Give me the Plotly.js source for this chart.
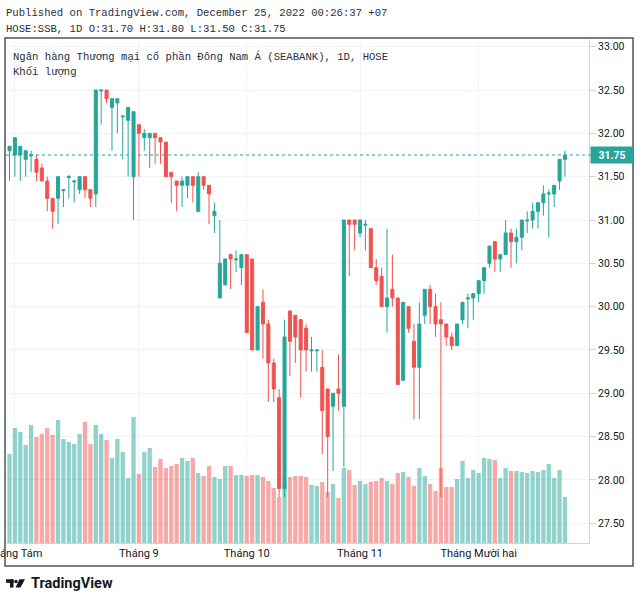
<!DOCTYPE html>
<html><head><meta charset="utf-8">
<script src="https://cdn.plot.ly/plotly-3.0.1.min.js"></script>
<style>html,body{margin:0;padding:0;background:#fff}#chart{width:640px;height:601px}</style>
</head><body><div id="chart"></div><script>
// ---- data ----
const dates = ["2022-07-29",
"2022-08-01","2022-08-02","2022-08-03","2022-08-04","2022-08-05","2022-08-08","2022-08-09","2022-08-10","2022-08-11","2022-08-12",
"2022-08-15","2022-08-16","2022-08-17","2022-08-18","2022-08-19","2022-08-22","2022-08-23","2022-08-24","2022-08-25","2022-08-26",
"2022-08-29","2022-08-30","2022-08-31",
"2022-09-05","2022-09-06","2022-09-07","2022-09-08","2022-09-09","2022-09-12","2022-09-13","2022-09-14","2022-09-15","2022-09-16",
"2022-09-19","2022-09-20","2022-09-21","2022-09-22","2022-09-23","2022-09-26","2022-09-27","2022-09-28","2022-09-29","2022-09-30",
"2022-10-03","2022-10-04","2022-10-05","2022-10-06","2022-10-07","2022-10-10","2022-10-11","2022-10-12","2022-10-13","2022-10-14",
"2022-10-17","2022-10-18","2022-10-19","2022-10-20","2022-10-21","2022-10-24","2022-10-25","2022-10-26","2022-10-27","2022-10-28","2022-10-31",
"2022-11-01","2022-11-02","2022-11-03","2022-11-04","2022-11-07","2022-11-08","2022-11-09","2022-11-10","2022-11-11",
"2022-11-14","2022-11-15","2022-11-16","2022-11-17","2022-11-18","2022-11-21","2022-11-22","2022-11-23","2022-11-24","2022-11-25",
"2022-11-28","2022-11-29","2022-11-30",
"2022-12-01","2022-12-02","2022-12-05","2022-12-06","2022-12-07","2022-12-08","2022-12-09","2022-12-12","2022-12-13","2022-12-14",
"2022-12-15","2022-12-16","2022-12-19","2022-12-20","2022-12-21","2022-12-22","2022-12-23"];

const open = [31.80,31.75,31.75,31.70,31.74,31.70,31.60,31.45,31.25,31.25,
31.34,31.49,31.44,31.35,31.50,31.35,31.30,32.49,32.50,32.30,
32.35,32.19,32.15,31.50,32.10,31.95,31.95,32.00,31.95,31.90,
31.55,31.45,31.40,31.40,31.50,31.10,31.50,31.40,31.05,30.10,
30.25,30.60,30.54,30.45,30.60,30.55,29.50,30.05,29.80,29.35,
28.95,27.90,29.95,29.90,29.85,29.75,29.49,29.49,29.30,29.05,
28.85,29.05,28.85,31.00,31.00,30.85,30.94,30.90,30.45,30.35,
30.00,30.20,30.10,29.15,30.00,29.60,29.30,29.90,30.20,30.00,
29.85,29.80,29.65,29.55,29.85,30.09,30.10,30.15,30.30,30.50,
30.75,30.55,30.60,30.85,30.75,30.80,30.99,31.00,31.10,31.20,
31.30,31.30,31.45,31.70];

const high = [31.85,31.95,31.85,31.80,31.80,31.75,31.65,31.50,31.25,31.50,
31.35,31.52,31.45,31.50,31.50,31.35,32.50,32.50,32.50,32.40,
32.40,32.20,32.30,32.25,32.10,32.05,32.00,32.00,31.95,31.90,
31.55,31.45,31.50,31.50,31.50,31.55,31.50,31.40,31.20,31.00,
30.55,30.60,30.65,30.60,30.60,30.55,30.00,30.20,29.85,29.40,
29.05,29.85,29.95,29.90,29.85,29.80,29.65,29.50,29.50,29.05,
29.00,29.45,31.00,31.00,31.00,31.00,31.00,30.90,30.55,30.45,
30.90,30.60,30.10,30.05,30.00,29.80,30.05,30.20,30.25,30.15,
30.05,29.80,29.70,29.80,30.05,30.15,30.15,30.30,30.45,30.70,
30.75,30.60,31.00,30.90,30.90,31.00,31.10,31.20,31.20,31.40,
31.35,31.40,31.70,31.80];

const low = [31.45,31.50,31.45,31.50,31.55,31.45,31.45,31.10,30.90,30.95,
31.15,31.25,31.20,31.30,31.25,31.15,31.15,32.10,32.35,31.80,
32.00,31.70,31.50,31.00,31.50,31.80,31.60,31.65,31.65,31.50,
31.20,31.10,31.15,31.25,31.20,31.10,31.35,30.95,30.85,30.10,
30.25,30.20,30.40,30.25,29.70,29.50,29.50,29.40,28.90,28.90,
27.80,27.80,29.20,29.35,28.95,29.25,29.25,29.25,28.30,27.80,
28.10,28.80,28.15,30.35,30.65,30.80,30.65,30.45,30.25,30.00,
29.70,30.00,29.10,29.15,29.70,28.70,28.70,29.80,29.80,29.65,
27.80,29.55,29.50,29.55,29.80,29.75,29.85,30.05,30.15,30.45,
30.40,30.40,30.60,30.45,30.50,30.65,30.85,30.90,30.90,31.05,
30.80,31.15,31.35,31.50];

const close = [31.85,31.95,31.85,31.80,31.75,31.55,31.45,31.25,31.10,31.50,
31.35,31.50,31.45,31.50,31.35,31.25,32.50,32.50,32.40,32.40,
32.40,32.20,32.30,32.25,32.00,32.00,32.00,31.95,31.90,31.50,
31.50,31.40,31.45,31.50,31.40,31.50,31.40,31.30,31.10,30.50,
30.55,30.55,30.55,30.60,29.70,29.50,30.00,29.80,29.35,29.05,
27.90,29.65,29.60,29.65,29.50,29.50,29.50,29.50,28.80,28.50,
29.00,29.00,31.00,30.95,30.95,31.00,30.95,30.45,30.30,30.00,
30.10,30.10,29.10,30.05,29.75,29.30,29.80,30.20,30.00,29.80,
29.80,29.65,29.55,29.80,30.05,30.10,30.15,30.30,30.45,30.70,
30.55,30.60,30.85,30.75,30.80,31.00,31.00,31.10,31.20,31.30,
31.31,31.40,31.70,31.75];

// volume, estimated, in units of 10,000 shares
const volume = [89,115,111,98,118,106,109,115,108,123,
104,101,99,109,121,99,118,109,103,85,
104,91,65,126,69,91,95,76,84,75,
77,79,85,82,85,70,67,77,66,64,
77,77,68,68,67,68,68,66,62,55,
46,60,66,67,67,66,58,57,61,51,
59,45,75,73,58,62,59,61,62,65,
62,59,70,71,66,57,75,67,59,52,
75,56,56,64,82,65,73,70,85,84,
83,65,75,72,72,71,70,72,71,73,
79,65,73,46];

const monthTicks  = ["2022-08-01","2022-09-05","2022-10-03","2022-11-01","2022-12-01"];
const monthLabels = ["Tháng Tám","Tháng 9","Tháng 10","Tháng 11","Tháng Mười hai"];
const priceTicks  = [27.5,28.0,28.5,29.0,29.5,30.0,30.5,31.0,31.5,32.0,32.5,33.0];

const headerLine1 = "Published on TradingView.com, December 25, 2022 00:26:37 +07";
const headerLine2 = "HOSE:SSB, 1D O:31.70 H:31.80 L:31.50 C:31.75";
const titleLine   = "Ngân hàng Thương mại cổ phần Đông Nam Á (SEABANK), 1D, HOSE";
const volumeLabel = "Khối lượng";

// ---- styling / layout helpers ----
const UP = '#26a69a', DOWN = '#ef5350';
const UP_VOL = 'rgba(38,166,154,0.5)', DOWN_VOL = 'rgba(239,83,80,0.5)';
const L = 6, R = 589, T = 39, B = 543;
const px = x => (x - L) / (R - L);
const py = y => (B - y) / (B - T);
const lastPrice = close[close.length - 1];
const volColors = close.map((c, i) => c >= open[i] ? UP_VOL : DOWN_VOL);
const mono = 'Liberation Mono, DejaVu Sans Mono, monospace';

const traces = [
  {type: 'bar', x: dates, y: volume, xaxis: 'x', yaxis: 'y',
   marker: {color: volColors, line: {width: 0}}, width: 0.8, hoverinfo: 'skip'},
  {type: 'candlestick', x: dates, open: open, high: high, low: low, close: close,
   xaxis: 'x', yaxis: 'y2', whiskerwidth: 0, hoverinfo: 'skip',
   increasing: {line: {color: UP, width: 1}, fillcolor: UP},
   decreasing: {line: {color: DOWN, width: 1}, fillcolor: DOWN}}
];

const shapes = [
  {type: 'rect', xref: 'paper', yref: 'paper', x0: px(5), x1: px(633), y0: py(566), y1: py(38),
   line: {color: '#50535e', width: 1.5}, fillcolor: 'rgba(0,0,0,0)'},
  {type: 'line', xref: 'paper', yref: 'y2', x0: 0, x1: px(591), y0: lastPrice, y1: lastPrice,
   line: {color: UP, width: 1, dash: 'dot'}},
  // TradingView logo
  {type: 'rect', xref: 'paper', yref: 'paper', x0: px(6), x1: px(13.5), y0: py(582.8), y1: py(579.3),
   line: {width: 0}, fillcolor: '#131722'},
  {type: 'rect', xref: 'paper', yref: 'paper', x0: px(10), x1: px(13.5), y0: py(587.6), y1: py(579.3),
   line: {width: 0}, fillcolor: '#131722'},
  {type: 'circle', xref: 'paper', yref: 'paper', x0: px(14.3), x1: px(17.7), y0: py(583.2), y1: py(579.8),
   line: {width: 0}, fillcolor: '#131722'},
  {type: 'path', xref: 'paper', yref: 'paper',
   path: `M ${px(19.5)} ${py(579.3)} L ${px(25)} ${py(579.3)} L ${px(20.5)} ${py(587.6)} L ${px(15.5)} ${py(587.6)} Z`,
   line: {width: 0}, fillcolor: '#131722'}
];

const annotations = [
  {xref: 'paper', yref: 'paper', x: px(4), y: py(13.5), xanchor: 'left', yanchor: 'middle', showarrow: false,
   text: headerLine1, font: {family: mono, size: 10.6, color: '#2a2e39'}},
  {xref: 'paper', yref: 'paper', x: px(4), y: py(28.5), xanchor: 'left', yanchor: 'middle', showarrow: false,
   text: headerLine2, font: {family: mono, size: 10.6, color: '#2a2e39'}},
  {xref: 'paper', yref: 'paper', x: px(11), y: py(57), xanchor: 'left', yanchor: 'middle', showarrow: false,
   text: titleLine, font: {family: mono, size: 10.6, color: '#2a2e39'}},
  {xref: 'paper', yref: 'paper', x: px(11), y: py(71.5), xanchor: 'left', yanchor: 'middle', showarrow: false,
   text: volumeLabel, font: {family: mono, size: 10.6, color: '#2a2e39'}},
  {xref: 'paper', yref: 'y2', x: px(590), y: lastPrice, xanchor: 'left', yanchor: 'middle', showarrow: false,
   text: '<b>' + lastPrice.toFixed(2) + '</b>', bgcolor: UP, borderpad: 2, width: 38, height: 12,
   font: {family: 'Roboto', size: 10.5, color: '#ffffff'}},
  {xref: 'paper', yref: 'paper', x: px(29), y: py(583.5), xanchor: 'left', yanchor: 'middle', showarrow: false,
   text: '<b>TradingView</b>', font: {family: 'Roboto', size: 14.5, color: '#131722'}}
];

const layout = {
  width: 640, height: 601,
  margin: {l: L, r: 640 - R, t: T, b: 601 - B, pad: 0},
  paper_bgcolor: '#ffffff', plot_bgcolor: '#ffffff',
  showlegend: false, boxgap: 0.2, bargap: 0.2, dragmode: false,
  xaxis: {type: 'category', range: [-0.65, 107.46], tickvals: monthTicks, ticktext: monthLabels,
          showgrid: true, gridcolor: '#f0f3fa', gridwidth: 1, ticks: '', zeroline: false,
          showline: true, linecolor: '#d1d4dc', linewidth: 1,
          tickfont: {family: 'Roboto', size: 11, color: '#131722'},
          rangeslider: {visible: false}, ticklabeloverflow: 'allow', fixedrange: true},
  yaxis: {range: [0, 504], visible: false, fixedrange: true},
  yaxis2: {overlaying: 'y', side: 'right', range: [27.272, 33.089], tickvals: priceTicks, tickformat: '.2f',
           showgrid: true, gridcolor: '#f0f3fa', gridwidth: 1, zeroline: false,
           ticks: 'outside', ticklen: 6, tickcolor: '#d1d4dc',
           showline: true, linecolor: '#d1d4dc', linewidth: 1,
           tickfont: {family: 'Roboto', size: 10.5, color: '#131722'}, fixedrange: true},
  shapes: shapes,
  annotations: annotations
};

Plotly.newPlot('chart', traces, layout, {staticPlot: true, displayModeBar: false});
</script></body></html>
